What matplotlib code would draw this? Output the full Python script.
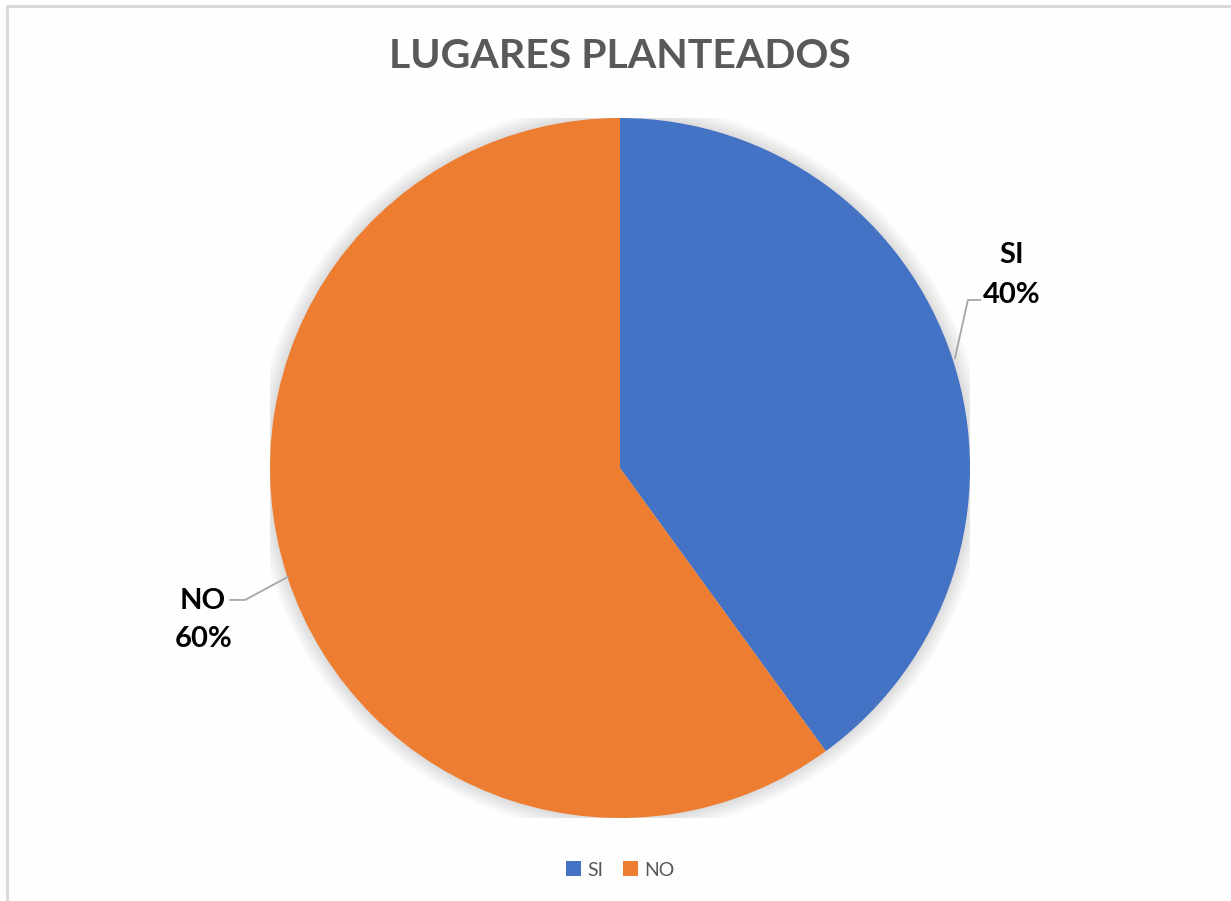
import numpy as np
import matplotlib.pyplot as plt
from matplotlib.patches import Rectangle, Circle
from matplotlib.lines import Line2D

categorias = ['SI', 'NO']
valores = [40, 60]
colores = ['#4472C4', '#ED7D31']
titulo = 'LUGARES PLANTEADOS'

W, H = 1231, 901
fig = plt.figure(figsize=(W / 100, H / 100), dpi=100)
fig.patch.set_facecolor('white')

# fondo rayado
plt.rcParams['hatch.color'] = '#f3f3f3'
plt.rcParams['hatch.linewidth'] = 3.0
fondo = Rectangle((7 / W, 0), 1, 1 - 6 / H, transform=fig.transFigure,
                  facecolor='#fefefe', edgecolor='none', lw=0,
                  hatch='\\\\', zorder=-5)
fig.patches.append(fondo)
# borde izquierdo y superior
fig.add_artist(Line2D([7 / W, 7 / W, 1], [0, 1 - 6 / H, 1 - 6 / H], transform=fig.transFigure,
                      color='#d9d9d9', lw=2.2, zorder=-4))

cx, cy, r = 620, 468, 350
ax = fig.add_axes([(cx - r) / W, (H - cy - r) / H, 2 * r / W, 2 * r / H])
ax.set_zorder(1)
ax.patch.set_visible(False)

# sombra suave
for k in range(12):
    ax.add_patch(Circle((0, 0), 1 + 0.004 * k, color='black', alpha=0.012, lw=0, zorder=0))

wedges, _ = ax.pie(valores, colors=colores, startangle=90, counterclock=False,
                   radius=1, wedgeprops=dict(linewidth=0))
for w in wedges:
    w.set_zorder(2)
ax.set_xlim(-1, 1)
ax.set_ylim(-1, 1)
ax.axis('off')

fuente = 'Lato'
# etiquetas
pos_etq = [(1.12, 0.609, 0.494), (-1.191, -0.38, -0.489)]
lineas = [[(0.957, 0.314), (0.994, 0.48), (1.029, 0.48)],
          [(-0.949, -0.311), (-1.071, -0.377), (-1.114, -0.377)]]
for cat, val, (x, y1, y2), ln in zip(categorias, valores, pos_etq, lineas):
    ax.text(x, y1, cat, ha='center', va='center', fontsize=21, fontweight='bold',
            family=fuente, color='black', clip_on=False)
    ax.text(x, y2, f'{val}%', ha='center', va='center', fontsize=21, fontweight='bold',
            family=fuente, color='black', clip_on=False)
    xs, ys = zip(*ln)
    ax.plot(xs, ys, color='#a6a6a6', lw=1.3, clip_on=False)

fig.text(cx / W, 1 - 57 / H, titulo, ha='center', va='center', fontsize=29.5,
         fontweight='bold', family=fuente, color='#595959')

leg = fig.legend(wedges, categorias, loc='center', bbox_to_anchor=(620 / W, 1 - 870 / H),
                 ncol=2, frameon=True, fancybox=False, handlelength=0.8, handleheight=0.8,
                 handletextpad=0.3, columnspacing=1.0, prop={'family': fuente, 'size': 14})
leg.get_frame().set_facecolor('white')
leg.get_frame().set_edgecolor('none')
for t in leg.get_texts():
    t.set_color('#595959')

fig.savefig('out.png', dpi=100)
